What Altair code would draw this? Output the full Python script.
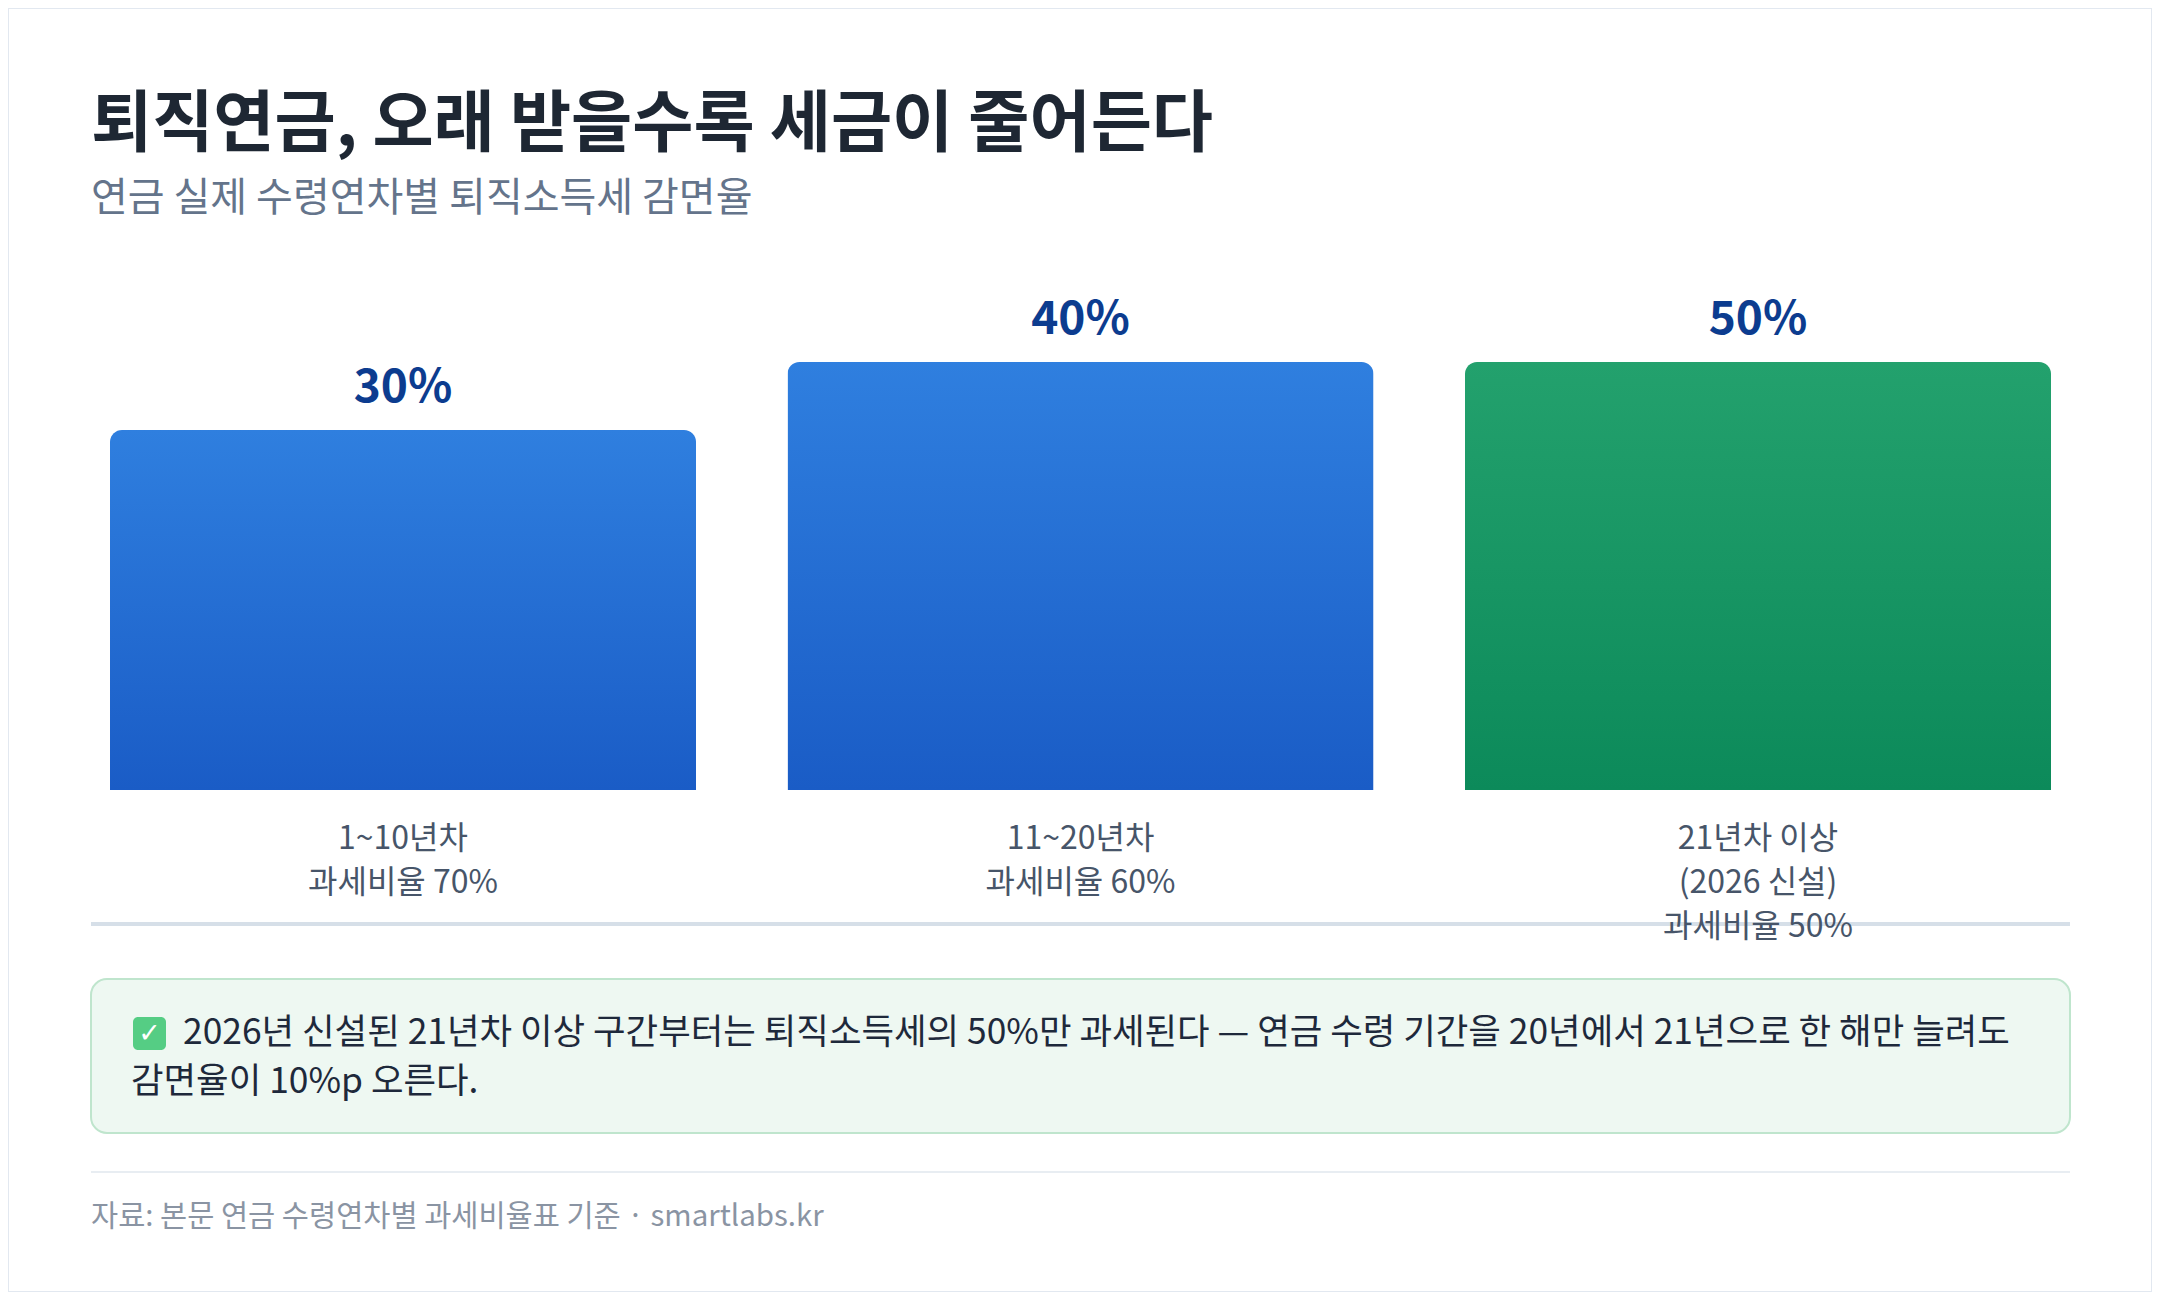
import altair as alt
import pandas as pd

# data
categories = ["1~10년차", "11~20년차", "21년차 이상"]
reduction_pct = [30, 40, 50]
groups = ["old", "old", "new"]
bar_labels = [
    "1~10년차\n과세비율 70%",
    "11~20년차\n과세비율 60%",
    "21년차 이상\n(2026 신설)\n과세비율 50%",
]

TITLE = "퇴직연금, 오래 받을수록 세금이 줄어든다"
SUBTITLE = "연금 실제 수령연차별 퇴직소득세 감면율"
NOTE_1 = "2026년 신설된 21년차 이상 구간부터는 퇴직소득세의 50%만 과세된다 — 연금 수령 기간을 20년에서 21년으로 한 해만 늘려도"
NOTE_2 = "감면율이 10%p 오른다."
SOURCE = "자료: 본문 연금 수령연차별 과세비율표 기준 · smartlabs.kr"

FONT = "Noto Sans CJK KR"
W, H = 2144, 1284

bars_df = pd.DataFrame(
    {"band": categories, "cut": reduction_pct, "group": groups, "label": bar_labels}
)
one = alt.Data(values=[{}])


def gradient(top, bottom):
    return {
        "gradient": "linear",
        "x1": 0, "x2": 0, "y1": 0, "y2": 1,
        "stops": [{"offset": 0, "color": top}, {"offset": 1, "color": bottom}],
    }


x_enc = alt.X(
    "band:N",
    sort=categories,
    axis=None,
    scale=alt.Scale(domain=categories, range=[83, 2062], paddingInner=0.135, paddingOuter=0.028),
)
# bars 2 and 3 reach the top of the plotting box in the source, so the scale clamps there
y_enc = alt.Y(
    "cut:Q",
    axis=None,
    scale=alt.Scale(domain=[0, 35.67], range=[782, 354], clamp=True, nice=False),
)

base = alt.Chart(bars_df).encode(x=x_enc, y=y_enc)

blue_bars = base.transform_filter("datum.group == 'old'").mark_bar(
    color=gradient("#2f7fdf", "#1a5cc6"), cornerRadiusTopLeft=12, cornerRadiusTopRight=12
)
green_bars = base.transform_filter("datum.group == 'new'").mark_bar(
    color=gradient("#23a16d", "#0c8a5a"), cornerRadiusTopLeft=12, cornerRadiusTopRight=12
)

values = base.transform_calculate(pct="datum.cut + '%'").mark_text(
    dy=-28, baseline="alphabetic", fontSize=46, fontWeight="bold", font=FONT, color="#0c3c8f"
).encode(text="pct:N")

divider = alt.Chart(one).mark_rule(color="#d6dfe8", strokeWidth=4).encode(
    x=alt.value(83), x2=alt.value(2062), y=alt.value(916)
)

band_labels = alt.Chart(bars_df).mark_text(
    baseline="top", lineBreak="\n", lineHeight=44, fontSize=32, font=FONT, color="#475569"
).encode(x=x_enc, y=alt.value(816), text="label:N")

title = alt.Chart(one).mark_text(
    align="left", baseline="middle", fontSize=66.5, fontWeight="bold", font=FONT, color="#1e2733"
).encode(x=alt.value(83), y=alt.value(118), text=alt.value(TITLE))

subtitle = alt.Chart(one).mark_text(
    align="left", baseline="middle", fontSize=40, font=FONT, color="#64748b"
).encode(x=alt.value(83), y=alt.value(191), text=alt.value(SUBTITLE))

# callout box
note_box = alt.Chart(one).mark_rect(
    fill="#eef8f2", stroke="#bfe5cd", strokeWidth=2, cornerRadius=16
).encode(x=alt.value(83), x2=alt.value(2062), y=alt.value(971), y2=alt.value(1125))

check_box = alt.Chart(one).mark_rect(fill="#55cd84", cornerRadius=5).encode(
    x=alt.value(125), x2=alt.value(158), y=alt.value(1009), y2=alt.value(1042)
)
check_mark = alt.Chart(one).mark_text(
    fontSize=27, fontWeight="bold", font="DejaVu Sans", color="white", baseline="middle"
).encode(x=alt.value(141.5), y=alt.value(1026), text=alt.value("✓"))

note_1 = alt.Chart(one).mark_text(
    align="left", baseline="middle", fontSize=35.4, font=FONT, color="#1e293b"
).encode(x=alt.value(175), y=alt.value(1025), text=alt.value(NOTE_1))
note_2 = alt.Chart(one).mark_text(
    align="left", baseline="middle", fontSize=35.4, font=FONT, color="#1e293b"
).encode(x=alt.value(123), y=alt.value(1074), text=alt.value(NOTE_2))

footer_rule = alt.Chart(one).mark_rule(color="#e8edf2", strokeWidth=2).encode(
    x=alt.value(83), x2=alt.value(2062), y=alt.value(1164)
)
footer = alt.Chart(one).mark_text(
    align="left", baseline="middle", fontSize=29.5, font=FONT, color="#8a94a3"
).encode(x=alt.value(83), y=alt.value(1209), text=alt.value(SOURCE))

chart = (
    alt.layer(
        blue_bars, green_bars, values, divider, band_labels,
        title, subtitle, note_box, check_box, check_mark, note_1, note_2,
        footer_rule, footer,
    )
    .properties(width=W, height=H, padding=0, background="white")
    .configure_view(stroke="#e2e8f0", strokeWidth=2)
)

chart.save("out.html", embed_options={"renderer": "svg", "actions": False})
